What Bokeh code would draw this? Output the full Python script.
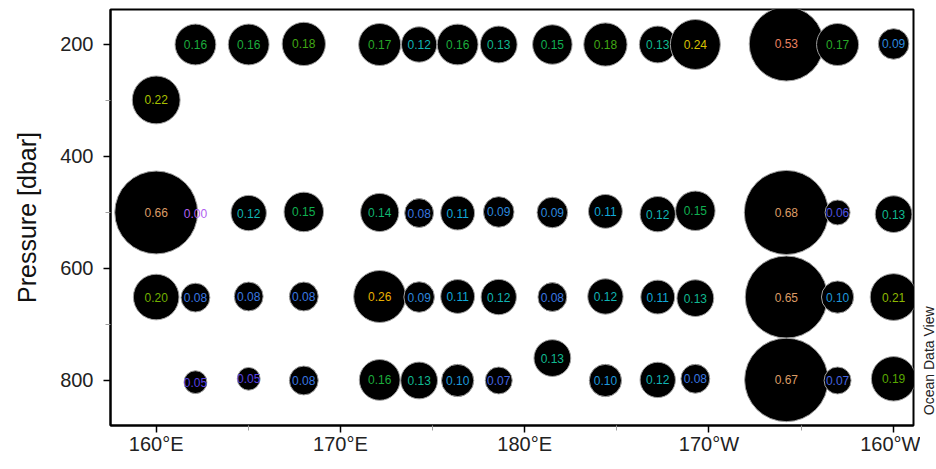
import math
from bokeh.plotting import figure
from bokeh.layouts import row
from bokeh.models import (ColumnDataSource, Range1d, FixedTicker, LinearColorMapper,
                          CDSView, BooleanFilter)
from bokeh.core.properties import value
from bokeh.embed import file_html
from bokeh.resources import INLINE

# ---------------- data ----------------
# longitude in degrees east (190 = 170°W, 200 = 160°W)
lon_200 = [162.13, 165.02, 168.01, 172.13, 174.27, 176.36, 178.59, 181.50, 184.38, 187.22, 189.26, 194.20, 196.98, 200.02]
prs_200 = [200, 200, 199, 200, 200, 200, 200, 200, 200, 200, 200, 199, 200, 199]
val_200 = [0.16, 0.16, 0.18, 0.17, 0.12, 0.16, 0.13, 0.15, 0.18, 0.13, 0.24, 0.53, 0.17, 0.09]

lon_300 = [160.0]
prs_300 = [299]
val_300 = [0.22]

lon_500 = [160.0, 162.13, 165.02, 168.01, 172.13, 174.27, 176.36, 178.59, 181.50, 184.38, 187.22, 189.26, 194.20, 196.98, 200.02]
prs_500 = [500, 502, 501, 499, 500, 501, 501, 499, 500, 498, 503, 497, 500, 500, 503]
val_500 = [0.66, 0.00, 0.12, 0.15, 0.14, 0.08, 0.11, 0.09, 0.09, 0.11, 0.12, 0.15, 0.68, 0.06, 0.13]

lon_650 = [160.0, 162.13, 165.02, 168.01, 172.13, 174.27, 176.36, 178.59, 181.50, 184.38, 187.22, 189.26, 194.20, 196.98, 200.02]
prs_650 = [651, 652, 650, 650, 650, 651, 650, 651, 651, 650, 651, 653, 651, 651, 651]
val_650 = [0.20, 0.08, 0.08, 0.08, 0.26, 0.09, 0.11, 0.12, 0.08, 0.12, 0.11, 0.13, 0.65, 0.10, 0.21]

lon_800 = [162.13, 165.02, 168.01, 172.13, 174.27, 176.36, 178.59, 181.50, 184.38, 187.22, 189.26, 194.20, 196.98, 200.02]
prs_800 = [803, 797, 800, 799, 800, 800, 800, 760, 800, 799, 797, 799, 800, 797]
val_800 = [0.05, 0.05, 0.08, 0.16, 0.13, 0.10, 0.07, 0.13, 0.10, 0.12, 0.08, 0.67, 0.07, 0.19]

x_ticks = [160, 170, 180, 190, 200]
x_tick_labels = ["160°E", "170°E", "180°E", "170°W", "160°W"]
y_ticks = [200, 400, 600, 800]

# ---------------- styles ----------------
FONT = "Liberation Sans"
SIZE_SCALE = 102.0  # circle diameter (px) = SIZE_SCALE * sqrt(value)

# colour stops of the label colour map (value, colour)
stops = [(0.00, "#b060f0"), (0.05, "#5a40e0"), (0.08, "#3a78e0"), (0.11, "#10a8d8"),
         (0.12, "#10b4b4"), (0.13, "#10b890"), (0.15, "#10b050"), (0.17, "#28a828"),
         (0.19, "#58a800"), (0.22, "#a8c000"), (0.24, "#d8c000"), (0.26, "#e8b000"),
         (0.40, "#f09040"), (0.53, "#e88060"), (0.65, "#dc9c66"), (0.70, "#dc9c66")]


def hex2rgb(h):
    return tuple(int(h[i:i + 2], 16) for i in (1, 3, 5))


def build_palette(n=71, lo=0.0, hi=0.70):
    pal = []
    for i in range(n):
        t = lo + (hi - lo) * i / (n - 1)
        for (a, ca), (b, cb) in zip(stops[:-1], stops[1:]):
            if a <= t <= b:
                f = 0 if b == a else (t - a) / (b - a)
                r1, g1, b1 = hex2rgb(ca)
                r2, g2, b2 = hex2rgb(cb)
                pal.append("#%02x%02x%02x" % (round(r1 + (r2 - r1) * f), round(g1 + (g2 - g1) * f), round(b1 + (b2 - b1) * f)))
                break
    return pal


lon = lon_200 + lon_300 + lon_500 + lon_650 + lon_800
prs = prs_200 + prs_300 + prs_500 + prs_650 + prs_800
val = val_200 + val_300 + val_500 + val_650 + val_800

src = ColumnDataSource(dict(
    lon=lon, p=prs, v=val,
    size=[SIZE_SCALE * math.sqrt(v) for v in val],
    label=["%.2f" % v for v in val],
))

H = 460
TOP = 9
BOTTOM = 35

p = figure(width=920, height=H, output_backend="svg", toolbar_location=None,
           x_range=Range1d(157.52, 201.10), y_range=Range1d(880.4, 137.5),
           min_border_left=110, min_border_right=7, min_border_top=TOP, min_border_bottom=BOTTOM)
p.background_fill_color = "white"
p.border_fill_color = "white"
p.outline_line_color = "black"
p.outline_line_width = 2
p.xgrid.visible = False
p.ygrid.visible = False

view = CDSView(filter=BooleanFilter([v > 0 for v in val]))
p.scatter("lon", "p", source=src, view=view, size="size", marker="circle",
          fill_color="black", line_color="#a0a0a0", line_width=1)

mapper = LinearColorMapper(palette=build_palette(), low=-0.005, high=0.705)
p.text("lon", "p", text="label", source=src, text_align="center", text_baseline="middle",
       text_font=value(FONT), text_font_size="12px",
       text_color={"field": "v", "transform": mapper})

# axes
p.xaxis.ticker = FixedTicker(ticks=x_ticks, minor_ticks=[165, 175, 185, 195])
p.xaxis.major_label_overrides = {t: s for t, s in zip(x_ticks, x_tick_labels)}
p.yaxis.ticker = FixedTicker(ticks=y_ticks, minor_ticks=[300, 500, 700])
p.yaxis.axis_label = "Pressure [dbar]"

for ax in (p.xaxis[0], p.yaxis[0]):
    ax.axis_line_color = "black"
    ax.axis_line_width = 2
    ax.major_tick_in = 0
    ax.major_tick_out = 7
    ax.major_tick_line_color = "black"
    ax.major_tick_line_width = 1.5
    ax.minor_tick_in = 0
    ax.minor_tick_out = 5
    ax.minor_tick_line_color = "#a0a0a0"
    ax.minor_tick_line_width = 1
    ax.major_label_text_font = FONT
    ax.major_label_text_font_size = "20px"
    ax.major_label_text_color = "#222222"
    ax.axis_label_text_font = FONT
    ax.axis_label_text_font_size = "25px"
    ax.axis_label_text_font_style = "normal"
    ax.axis_label_text_color = "#111111"

p.xaxis.major_label_standoff = 0
p.yaxis.major_label_standoff = 10
p.yaxis.axis_label_standoff = 16

# narrow side panel carrying the "Ocean Data View" credit
# (same vertical scale as the main plot, frame extended 15 px lower)
side = figure(width=16, height=H, output_backend="svg", toolbar_location=None,
              x_range=Range1d(0, 1), y_range=Range1d(907.2, 137.5),
              min_border_left=0, min_border_right=0, min_border_top=TOP, min_border_bottom=20)
side.axis.visible = False
side.grid.visible = False
side.outline_line_color = None
side.background_fill_color = "white"
side.border_fill_color = "white"
side.text(x=[0.5], y=[787.5], text=["Ocean Data View"], angle=math.pi / 2,
          text_align="center", text_baseline="middle", text_font=value(FONT),
          text_font_size="14px", text_color="#222222")

layout = row(p, side, spacing=0)
open("out.html", "w").write(file_html(layout, INLINE))
